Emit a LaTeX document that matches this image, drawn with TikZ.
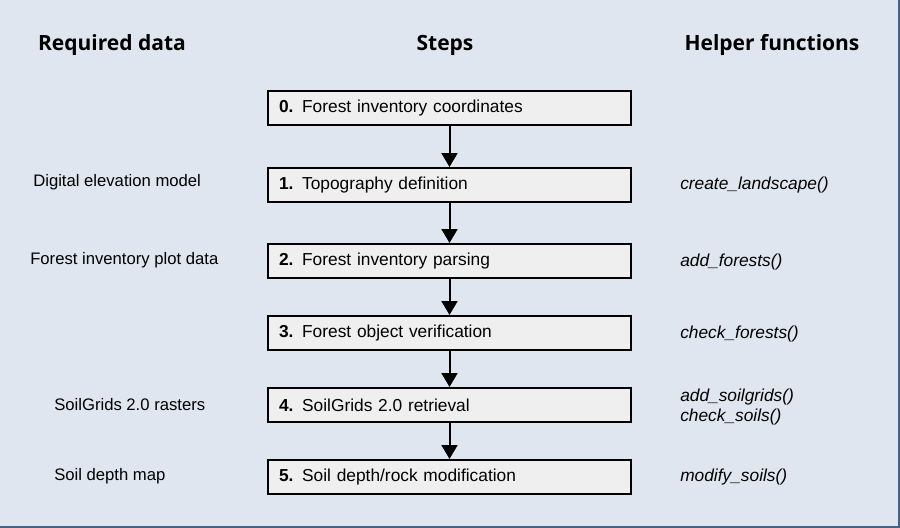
\documentclass[tikz,border=0pt]{standalone}
\usepackage{fontspec}
\setmainfont{Liberation Sans}
\newfontfamily\headfont{Open Sans}
\usepackage{tikz}
\usetikzlibrary{positioning,arrows.meta}
\definecolor{bgblue}{HTML}{DFE6EF}
\definecolor{framecol}{HTML}{41638A}
\definecolor{boxfill}{HTML}{EFEFEF}
\tikzset{
  stepbox/.style={rectangle, draw, line width=1.5pt, fill=boxfill, minimum width=272.25pt, minimum height=25.5pt,
                  inner xsep=8.25pt, text width=255.75pt, align=left, font=\fontsize{13}{15}\selectfont},
  fwd/.style={-{Triangle[width=12pt,length=10.5pt]}, line width=1.5pt},
  header/.style={font=\headfont\bfseries\fontsize{15.75}{18}\selectfont},
  datalabel/.style={anchor=west, inner sep=0pt, font=\fontsize{12.5}{14}\selectfont},
  helper/.style={anchor=west, inner sep=0pt, align=left, font=\itshape\fontsize{13}{15}\selectfont},
}

\begin{document}
\begin{tikzpicture}[x=0.75pt, y=-0.75pt]
  \fill[bgblue] (0,0) rectangle (900,528);
  \useasboundingbox (0,0) rectangle (900,528);
  \draw[framecol, line width=1.5pt] (0,527) -- (899,527) -- (899,0);

  % column titles
  \node[header] (hdata) at (112,45) {Required data};
  \node[header] (hsteps) at (445,45) {Steps};
  \node[header] (hhelp) at (772,45) {Helper functions};

  % steps
  \node[stepbox] (s0) at (449.5,108) {\textbf{0.} Forest inventory coordinates};
  \node[stepbox] (s1) [below=30.75pt of s0] {\textbf{1.} Topography definition};
  \node[stepbox] (s2) [below=30pt of s1] {\textbf{2.} Forest inventory parsing};
  \node[stepbox] (s3) [below=27pt of s2] {\textbf{3.} Forest object verification};
  \node[stepbox] (s4) [below=27pt of s3] {\textbf{4.} SoilGrids 2.0 retrieval};
  \node[stepbox] (s5) [below=27pt of s4] {\textbf{5.} Soil depth/rock modification};

  \draw[fwd] (s0) -- (s1);
  \draw[fwd] (s1) -- (s2);
  \draw[fwd] (s2) -- (s3);
  \draw[fwd] (s3) -- (s4);
  \draw[fwd] (s4) -- (s5);

  % required data
  \node[datalabel] (d1) at (33,182) {Digital elevation model};
  \node[datalabel] (d2) at (30,260) {Forest inventory plot data};
  \node[datalabel] (d4) at (54,405) {SoilGrids 2.0 rasters};
  \node[datalabel] (d5) at (54,476) {Soil depth map};

  % helper functions
  \node[helper] (f1) at (680,185) {create\_landscape()};
  \node[helper] (f2) at (680,262) {add\_forests()};
  \node[helper] (f3) at (680,334) {check\_forests()};
  \node[helper] (f4) at (680,407.5) {add\_soilgrids()\\check\_soils()};
  \node[helper] (f5) at (680,477) {modify\_soils()};
\end{tikzpicture}
\end{document}
